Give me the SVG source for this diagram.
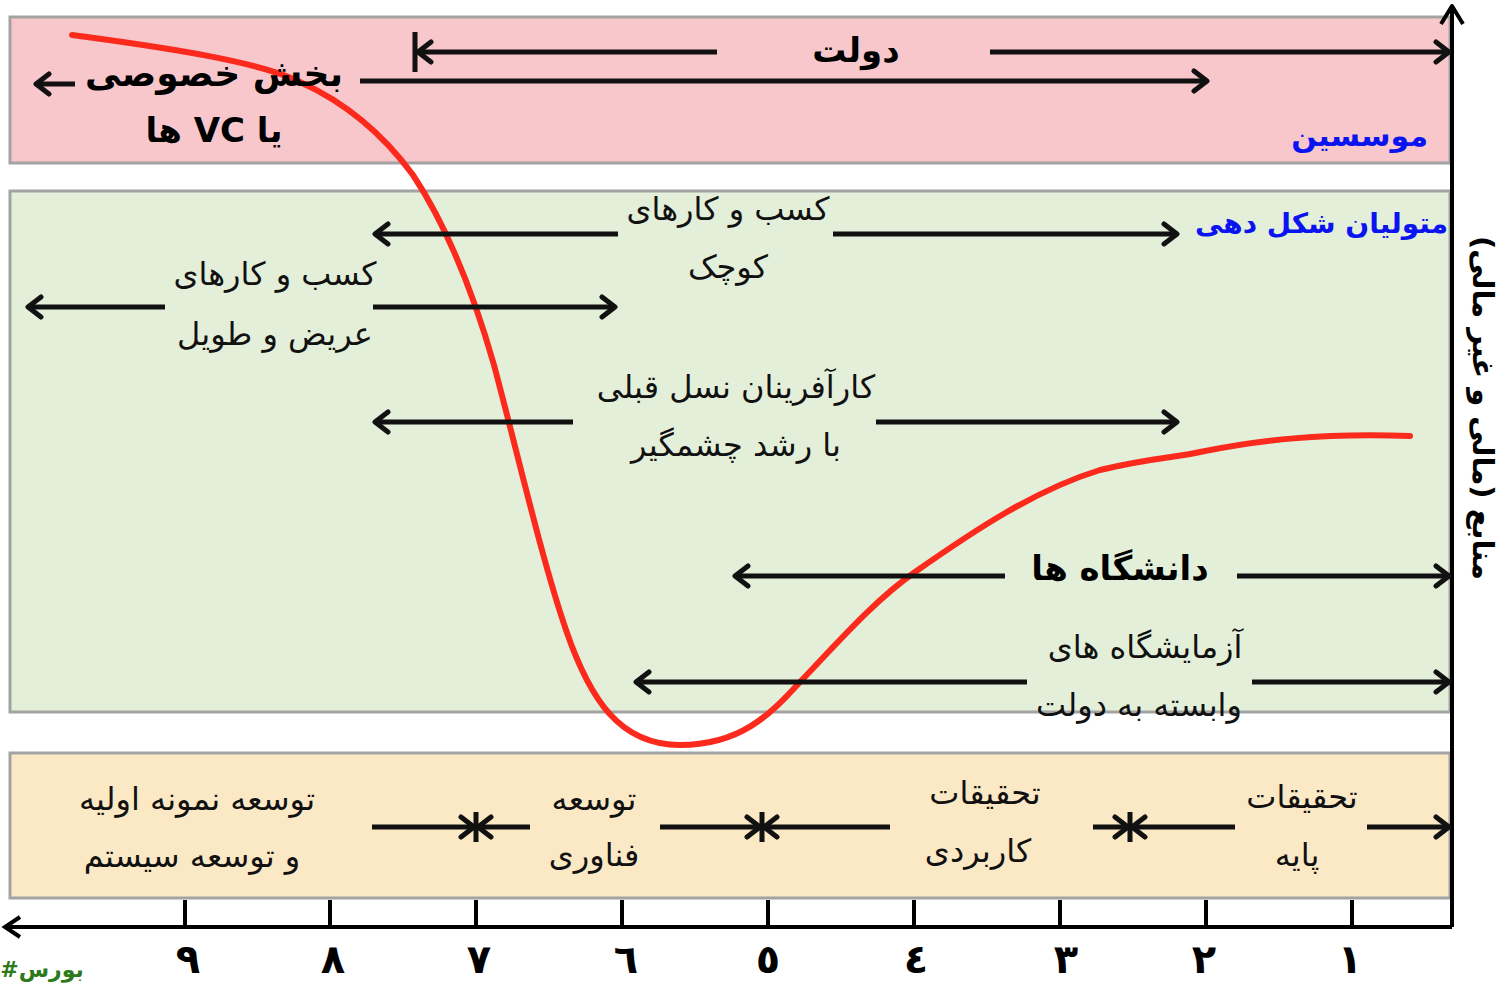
<svg xmlns="http://www.w3.org/2000/svg" width="1511" height="987" viewBox="0 0 1511 987">
<style>
.band{stroke:#a3a3a3;stroke-width:3}
.ln{stroke:#111;stroke-width:5;fill:none}
.ax{stroke:#000;stroke-width:4;fill:none}
.t{font-family:"DejaVu Sans",sans-serif;font-size:32px;fill:#111;text-anchor:middle;direction:rtl}
.b{font-family:"DejaVu Sans",sans-serif;font-size:34px;font-weight:bold;fill:#000;text-anchor:middle;direction:rtl}
.blue{font-family:"DejaVu Sans",sans-serif;font-weight:bold;fill:#0a14f0;text-anchor:start;direction:rtl}
.num{font-family:"DejaVu Sans",sans-serif;font-size:40px;font-weight:bold;fill:#000;text-anchor:middle}
</style>
<defs>
<marker id="ah" markerUnits="userSpaceOnUse" markerWidth="22" markerHeight="26" viewBox="0 0 22 26" refX="19" refY="13" orient="auto">
<path d="M6,3 L19,13 L6,23" fill="none" stroke="#111" stroke-width="5" stroke-linecap="round" stroke-linejoin="round"/>
</marker>
</defs>
<rect width="1511" height="987" fill="#fff"/>
<g id="band-founders"><rect class="band" x="10" y="17" width="1440" height="146" fill="#f7c7cc"/></g>
<g id="band-shapers"><rect class="band" x="10" y="191" width="1440" height="521" fill="#e3efd8"/></g>
<g id="band-stages"><rect class="band" x="10" y="753" width="1440" height="145" fill="#fbe8c5"/></g>

<g id="axes">
<path class="ax" d="M1452,927 V8"/>
<path class="ax" d="M1441,24 L1452,6 L1463,24" stroke-linejoin="round"/>
<path class="ax" d="M1452,927 H5"/>
<path class="ax" d="M20,917 L5,927 L20,937"/>
<path class="ax" d="M185,900V927M330,900V927M476,900V927M622,900V927M768,900V927M914,900V927M1060,900V927M1206,900V927M1352,900V927"/>
</g>
<g id="tick-labels">
<text class="num" x="188" y="973">٩</text>
<text class="num" x="333" y="973">٨</text>
<text class="num" x="479" y="973">٧</text>
<text class="num" x="626" y="973">٦</text>
<text class="num" x="768" y="973">٥</text>
<text class="num" x="916" y="973">٤</text>
<text class="num" x="1066" y="973">٣</text>
<text class="num" x="1204" y="973">٢</text>
<text class="num" x="1350" y="973">١</text>
</g>
<g id="y-label"><text class="b" style="font-size:29px" transform="translate(1473,408) rotate(90)">منابع (مالی و غیر مالی)</text></g>

<g id="curve"><path d="M72,35 C170,48 260,62 300,82 C340,100 380,130 413,175 C448,228 474,295 494,365 C518,455 542,560 566,630 C590,700 620,745 680,745 C740,745 770,715 800,682 C840,640 875,600 915,572 C975,530 1035,490 1100,470 C1150,458 1180,457 1200,452 C1260,440 1320,433 1410,436" fill="none" stroke="#fb2a1c" stroke-width="6" stroke-linecap="round"/></g>

<g id="connectors">
<path class="ln" d="M717,52 H418" marker-end="url(#ah)"/>
<path class="ln" d="M415,32 V72"/>
<path class="ln" d="M990,52 H1449" marker-end="url(#ah)"/>
<path class="ln" d="M360,81 H1207" marker-end="url(#ah)"/>
<path class="ln" d="M75,84 H36" marker-end="url(#ah)"/>
<path class="ln" d="M618,234 H375" marker-end="url(#ah)"/>
<path class="ln" d="M833,234 H1177" marker-end="url(#ah)"/>
<path class="ln" d="M165,307 H28" marker-end="url(#ah)"/>
<path class="ln" d="M373,307 H615" marker-end="url(#ah)"/>
<path class="ln" d="M573,422 H375" marker-end="url(#ah)"/>
<path class="ln" d="M876,422 H1177" marker-end="url(#ah)"/>
<path class="ln" d="M1005,576 H735" marker-end="url(#ah)"/>
<path class="ln" d="M1237,576 H1449" marker-end="url(#ah)"/>
<path class="ln" d="M1027,682 H636" marker-end="url(#ah)"/>
<path class="ln" d="M1252,682 H1449" marker-end="url(#ah)"/>
<path class="ln" d="M372,827 H474" marker-end="url(#ah)"/>
<path class="ln" d="M476,812 V842"/>
<path class="ln" d="M530,827 H478" marker-end="url(#ah)"/>
<path class="ln" d="M660,827 H760" marker-end="url(#ah)"/>
<path class="ln" d="M762,812 V842"/>
<path class="ln" d="M890,827 H764" marker-end="url(#ah)"/>
<path class="ln" d="M1093,827 H1128" marker-end="url(#ah)"/>
<path class="ln" d="M1130,812 V842"/>
<path class="ln" d="M1235,827 H1132" marker-end="url(#ah)"/>
<path class="ln" d="M1367,827 H1449" marker-end="url(#ah)"/>
</g>

<g id="n-government"><text class="b" x="856" y="62">دولت</text></g>
<g id="n-private"><text class="b" x="214" y="86" style="font-size:36px">بخش خصوصی</text><text class="b" x="214" y="142">یا VC ها</text></g>
<g id="n-founders"><text class="blue" x="1428" y="146" style="font-size:30px">موسسین</text></g>
<g id="n-shapers"><text class="blue" x="1448" y="233" style="font-size:28px">متولیان شکل دهی</text></g>
<g id="n-small"><text class="t" x="728" y="220">کسب و کارهای</text><text class="t" x="728" y="278">کوچک</text></g>
<g id="n-large"><text class="t" x="275" y="285">کسب و کارهای</text><text class="t" x="275" y="345">عریض و طویل</text></g>
<g id="n-entrepreneurs"><text class="t" x="736" y="398">کارآفرینان نسل قبلی</text><text class="t" x="736" y="456">با رشد چشمگیر</text></g>
<g id="n-universities"><text class="b" x="1120" y="580">دانشگاه ها</text></g>
<g id="n-labs"><text class="t" x="1145" y="658">آزمایشگاه های</text><text class="t" x="1139" y="716">وابسته به دولت</text></g>
<g id="n-prototype"><text class="t" x="197" y="810">توسعه نمونه اولیه</text><text class="t" x="192" y="867">و توسعه سیستم</text></g>
<g id="n-tech"><text class="t" x="594" y="810">توسعه</text><text class="t" x="594" y="866">فناوری</text></g>
<g id="n-applied"><text class="t" x="985" y="804">تحقیقات</text><text class="t" x="978" y="862">کاربردی</text></g>
<g id="n-basic"><text class="t" x="1302" y="808">تحقیقات</text><text class="t" x="1297" y="866">پایه</text></g>
<g id="watermark"><text x="42" y="977" font-family="DejaVu Sans,sans-serif" font-size="22" font-weight="bold" fill="#2c7a1c" text-anchor="middle">#بورس</text></g>
</svg>
